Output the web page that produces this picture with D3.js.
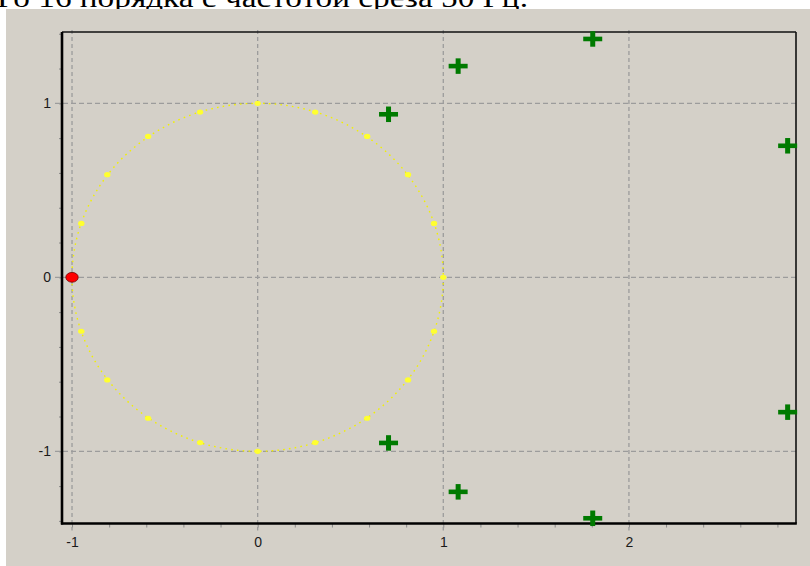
<!DOCTYPE html>
<html>
<head>
<meta charset="utf-8">
<script src="https://cdn.jsdelivr.net/npm/d3@7"></script>
<style>
  html, body { margin: 0; padding: 0; background: #fff; }
  svg { display: block; }
</style>
</head>
<body>
<svg id="chart" width="810" height="566"></svg>
<script>
// ---- data ----
const captionText = "Го 16 порядка с частотой среза 50 Гц.";
const xDomain = [-1.054, 2.9];
const yDomain = [-1.415, 1.41];
const xTickLabels = [-1, 0, 1, 2];
const yTickLabels = [-1, 0, 1];
// unit-circle markers (yellow)
const circleX = [1, 0.95, 0.81, 0.59, 0.31, 0, -0.31, -0.59, -0.81, -0.95, -1, -0.95, -0.81, -0.59, -0.31, 0, 0.31, 0.59, 0.81, 0.95];
const circleY = [0, 0.31, 0.59, 0.81, 0.95, 1, 0.95, 0.81, 0.59, 0.31, 0, -0.31, -0.59, -0.81, -0.95, -1, -0.95, -0.81, -0.59, -0.31];
// zeros (red)
const zeroX = [-1];
const zeroY = [0];
// poles (green crosses)
const poleX = [0.705, 0.705, 1.08, 1.08, 1.805, 1.805, 2.855, 2.855];
const poleY = [0.937, -0.952, 1.214, -1.233, 1.37, -1.385, 0.756, -0.775];

// ---- drawing ----
const svg = d3.select("#chart");
const W = 810, H = 566;
const plot = { left: 62, right: 796, top: 32, bottom: 523.5 };

svg.append("rect").attr("width", W).attr("height", H).attr("fill", "#ffffff");
svg.append("text")
  .attr("x", -3).attr("y", 7)
  .attr("font-family", "'Liberation Serif', 'Times New Roman', serif")
  .attr("font-size", 27)
  .attr("fill", "#000")
  .attr("textLength", 531).attr("lengthAdjust", "spacingAndGlyphs")
  .text(captionText);

svg.append("rect").attr("x", 6).attr("y", 9).attr("width", W - 6).attr("height", H - 9).attr("fill", "#d4d0c8");

const x = d3.scaleLinear().domain(xDomain).range([plot.left, plot.right]);
const y = d3.scaleLinear().domain(yDomain).range([plot.bottom, plot.top]);

const gridColor = "#9c9c9c";
// minor ticks
const xMinor = x.ticks(20);
const yMinor = d3.ticks(-1.4, 1.4, 14);

svg.append("g")
  .attr("transform", `translate(0,${plot.bottom})`)
  .call(d3.axisBottom(x).tickValues(xMinor).tickSize(4).tickFormat(""))
  .call(g => g.select(".domain").remove())
  .call(g => g.selectAll("line").attr("stroke", "#8a8a8a"));
svg.append("g")
  .attr("transform", `translate(${plot.left},0)`)
  .call(d3.axisLeft(y).tickValues(yMinor).tickSize(3).tickFormat(""))
  .call(g => g.select(".domain").remove())
  .call(g => g.selectAll("line").attr("stroke", "#8a8a8a"));

// grid lines
svg.append("g").selectAll("line").data(xTickLabels).join("line")
  .attr("x1", d => x(d)).attr("x2", d => x(d))
  .attr("y1", plot.top - 2).attr("y2", plot.bottom + 7)
  .attr("stroke", gridColor).attr("stroke-width", 1.3)
  .attr("stroke-dasharray", "4,3");
svg.append("g").selectAll("line").data(yTickLabels).join("line")
  .attr("x1", plot.left - 7).attr("x2", plot.right)
  .attr("y1", d => y(d)).attr("y2", d => y(d))
  .attr("stroke", gridColor).attr("stroke-width", 1.3)
  .attr("stroke-dasharray", "5,3");

// labels via axes
const labelFont = "'Liberation Sans', Arial, sans-serif";
svg.append("g")
  .attr("transform", `translate(0,${plot.bottom})`)
  .call(d3.axisBottom(x).tickValues(xTickLabels).tickSize(0).tickPadding(14).tickFormat(d => String(d)))
  .call(g => g.select(".domain").remove())
  .call(g => g.selectAll("text").attr("font-family", labelFont).attr("font-size", 14).attr("fill", "#1a1a1a"));
svg.append("g")
  .attr("transform", `translate(${plot.left},0)`)
  .call(d3.axisLeft(y).tickValues(yTickLabels).tickSize(0).tickPadding(11).tickFormat(d => String(d)))
  .call(g => g.select(".domain").remove())
  .call(g => g.selectAll("text").attr("font-family", labelFont).attr("font-size", 14).attr("fill", "#1a1a1a"));

// frame
svg.append("line").attr("x1", plot.left).attr("x2", plot.right).attr("y1", plot.top).attr("y2", plot.top)
  .attr("stroke", "#111").attr("stroke-width", 1.4);
svg.append("line").attr("x1", plot.right).attr("x2", plot.right).attr("y1", plot.top).attr("y2", plot.bottom)
  .attr("stroke", "#111").attr("stroke-width", 1.6);

// unit circle (dotted)
svg.append("ellipse")
  .attr("cx", x(0)).attr("cy", y(0))
  .attr("rx", x(1) - x(0)).attr("ry", y(0) - y(1))
  .attr("fill", "none").attr("stroke", "#f2f000").attr("stroke-width", 1.4)
  .attr("stroke-dasharray", "1.6,4.2");

// unit circle markers
svg.append("g").selectAll("ellipse").data(d3.range(circleX.length)).join("ellipse")
  .attr("cx", i => x(circleX[i])).attr("cy", i => y(circleY[i]))
  .attr("rx", 3.2).attr("ry", 2.6)
  .attr("fill", "#ffff30");

// axes thick lines (left, bottom)
svg.append("line").attr("x1", plot.left).attr("x2", plot.left).attr("y1", plot.top).attr("y2", plot.bottom + 1)
  .attr("stroke", "#000").attr("stroke-width", 2.6);
svg.append("line").attr("x1", plot.left - 1).attr("x2", plot.right + 0.8).attr("y1", plot.bottom).attr("y2", plot.bottom)
  .attr("stroke", "#000").attr("stroke-width", 2.6);

// zeros
svg.append("g").selectAll("ellipse").data(d3.range(zeroX.length)).join("ellipse")
  .attr("cx", i => x(zeroX[i])).attr("cy", i => y(zeroY[i]))
  .attr("rx", 6.2).attr("ry", 4.9)
  .attr("fill", "#ff0000").attr("stroke", "#700000").attr("stroke-width", 0.8);

// poles
const crossW = 19, crossH = 15.5, barV = 5, barH = 4.6;
const poles = svg.append("g").selectAll("g").data(d3.range(poleX.length)).join("g")
  .attr("transform", i => `translate(${x(poleX[i])},${y(poleY[i])})`);
poles.append("rect").attr("x", -crossW / 2).attr("y", -barH / 2).attr("width", crossW).attr("height", barH)
  .attr("fill", "#007a00");
poles.append("rect").attr("x", -barV / 2).attr("y", -crossH / 2).attr("width", barV).attr("height", crossH)
  .attr("fill", "#007a00");
</script>
</body>
</html>
